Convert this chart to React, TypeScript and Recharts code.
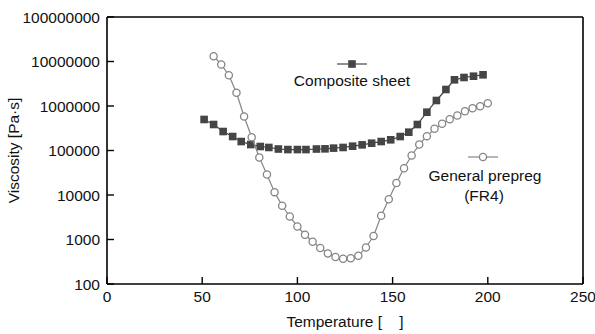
import React from 'react';
import {
  ScatterChart,
  Scatter,
  XAxis,
  YAxis,
  ReferenceLine,
  Customized,
} from 'recharts';

// Composite sheet (filled squares)
const compositeTemps = [
  51, 56, 61, 66, 70.5, 75.5, 80.5, 85, 90, 95, 100, 104.5, 110, 114.5, 119, 124,
  129, 134, 139, 144, 149, 154, 158.5, 163, 168, 173, 178, 182.5, 187.5, 192.5, 197.5,
];
const compositeVisc = [
  498000, 384000, 267000, 206000, 159000, 136000, 123000, 117000, 108000, 105000,
  105000, 105000, 108000, 109000, 113000, 117000, 125000, 134000, 146000, 159000,
  174000, 206000, 258000, 384000, 726000, 1330000, 2350000, 3880000, 4370000,
  4670000, 5020000,
];

// General prepreg FR4 (open circles)
const prepregTemps = [
  56, 60, 64, 68, 72, 76, 80, 84, 88, 92, 96, 100, 104, 108, 112, 116, 120, 124,
  128, 132, 136, 140, 144, 148, 152, 156, 160, 164, 168, 172, 176, 180, 184, 188,
  192, 196, 200,
];
const prepregVisc = [
  13150000, 8570000, 4920000, 1980000, 581000, 199000, 69600, 28900, 11600, 5720,
  3290, 1960, 1280, 888, 644, 485, 404, 370, 378, 430, 661, 1200, 3430, 8050,
  18600, 40000, 77200, 136000, 210000, 307000, 398000, 505000, 612000, 764000,
  893000, 990000, 1156000,
];

const xTicks = [0, 50, 100, 150, 200, 250];
const yTicks = [100, 1000, 10000, 100000, 1000000, 10000000, 100000000];

const compositeData = compositeTemps.map((t, i) => ({ t, v: compositeVisc[i] }));
const prepregData = prepregTemps.map((t, i) => ({ t, v: prepregVisc[i] }));

const FONT = '"Liberation Sans", Arial, sans-serif';
const SQUARE_COLOR = '#454545';
const CIRCLE_COLOR = '#858585';

const SquareDot = (props: any) => {
  const { cx, cy } = props;
  if (cx == null || cy == null) return null;
  return <rect x={cx - 3.8} y={cy - 3.8} width={7.6} height={7.6} fill={SQUARE_COLOR} />;
};

const CircleDot = (props: any) => {
  const { cx, cy } = props;
  if (cx == null || cy == null) return null;
  return (
    <circle cx={cx} cy={cy} r={3.6} fill="#fff" stroke={CIRCLE_COLOR} strokeWidth={1.3} />
  );
};

const Legends = () => (
  <g fontFamily={FONT} fontSize={15.5} fill="#111">
    <line x1={337} y1={64} x2={367} y2={64} stroke={SQUARE_COLOR} strokeWidth={1.2} />
    <rect x={348.2} y={60.2} width={7.6} height={7.6} fill={SQUARE_COLOR} />
    <text x={352} y={86} textAnchor="middle">
      Composite sheet
    </text>
    <line x1={468} y1={157} x2={498} y2={157} stroke={CIRCLE_COLOR} strokeWidth={1.2} />
    <circle cx={483} cy={157} r={3.6} fill="#fff" stroke={CIRCLE_COLOR} strokeWidth={1.3} />
    <text x={485} y={181} textAnchor="middle">
      General prepreg
    </text>
    <text x={484} y={201} textAnchor="middle">
      (FR4)
    </text>
  </g>
);

export default function App() {
  const tickStyle = { fill: '#111', fontSize: 15.5, fontFamily: FONT };
  return (
    <div style={{ position: 'absolute', left: 0, top: 0, background: '#fff' }}>
      <ScatterChart
        width={595}
        height={334}
        margin={{ top: 17, right: 12, bottom: 0, left: 0 }}
      >
        <XAxis
          type="number"
          dataKey="t"
          domain={[0, 250]}
          ticks={xTicks}
          height={50}
          tickSize={-7}
          tickMargin={14}
          tick={tickStyle}
          axisLine={{ stroke: '#000', strokeWidth: 1.6 }}
          tickLine={{ stroke: '#000', strokeWidth: 1.4 }}
          label={{
            value: 'Temperature [\u00a0\u00a0\u00a0\u00a0]',
            position: 'insideBottom',
            offset: 7,
            style: { fill: '#111', fontSize: 15.5, fontFamily: FONT },
          }}
        />
        <YAxis
          type="number"
          dataKey="v"
          scale="log"
          domain={[100, 100000000]}
          ticks={yTicks}
          allowDataOverflow
          width={107}
          tickSize={-7}
          tickMargin={14}
          tick={tickStyle}
          tickFormatter={(v: number) => String(v)}
          axisLine={{ stroke: '#000', strokeWidth: 1.6 }}
          tickLine={{ stroke: '#000', strokeWidth: 1.4 }}
          label={{
            value: 'Viscosity [Pa\u00b7s]',
            angle: -90,
            position: 'insideLeft',
            offset: 13,
            style: { textAnchor: 'middle', fill: '#111', fontSize: 15.5, fontFamily: FONT },
          }}
        />
        <ReferenceLine y={100000000} stroke="#000" strokeWidth={1.6} />
        <ReferenceLine x={250} stroke="#000" strokeWidth={1.6} />
        <Scatter
          data={compositeData}
          line={{ stroke: SQUARE_COLOR, strokeWidth: 1.2 }}
          lineJointType="linear"
          shape={<SquareDot />}
          isAnimationActive={false}
        />
        <Scatter
          data={prepregData}
          line={{ stroke: CIRCLE_COLOR, strokeWidth: 1.2 }}
          lineJointType="linear"
          shape={<CircleDot />}
          isAnimationActive={false}
        />
        <Customized component={Legends} />
      </ScatterChart>
    </div>
  );
}
